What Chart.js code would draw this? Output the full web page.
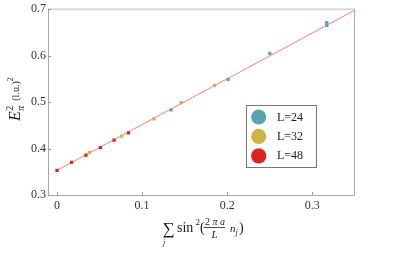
<!DOCTYPE html>
<html><head><meta charset="utf-8">
<script src="https://cdn.jsdelivr.net/npm/chart.js@4"></script>
<style>html,body{margin:0;padding:0;background:#fff}#wrap{width:407px;height:254px}</style>
</head><body><div id="wrap"><canvas id="c" width="407" height="254"></canvas></div>
<script>
const seriesLabels = ['L=24', 'L=32', 'L=48'];
const seriesColors = ['#5aa3b3', '#cfb443', '#dc2424'];
const x24 = [0.134, 0.201, 0.250, 0.317, 0.317];
const y24 = [0.483, 0.549, 0.605, 0.665, 0.671];
const x32 = [0.038, 0.076, 0.114, 0.146, 0.185];
const y32 = [0.391, 0.427, 0.464, 0.499, 0.536];
const x48 = [0.000, 0.017, 0.034, 0.051, 0.067, 0.084];
const y48 = [0.353, 0.370, 0.386, 0.402, 0.418, 0.434];
const fitX = [0.0, 0.35];
const fitY = [0.353, 0.698];
const xTicks = [0, 0.1, 0.2, 0.3];
const yTicks = [0.3, 0.4, 0.5, 0.6, 0.7];
const xRange = [-0.0106, 0.349];
const yRange = [0.3, 0.7];

const SERIF = '"Liberation Serif", "DejaVu Serif", serif';
const pts = (xs, ys) => xs.map((x, i) => ({x, y: ys[i]}));
const seriesX = [x24, x32, x48], seriesY = [y24, y32, y48];

const datasets = seriesLabels.map((lab, i) => ({
  type: 'scatter', label: lab, data: pts(seriesX[i], seriesY[i]),
  pointStyle: 'rect', pointRadius: 2.3, pointBorderWidth: 0,
  backgroundColor: seriesColors[i], borderColor: seriesColors[i], order: 1
}));
datasets.push({
  type: 'line', label: 'fit', data: pts(fitX, fitY), borderColor: '#ff7f7f',
  borderWidth: 1, pointRadius: 0, fill: false, order: 10
});

function txt(ctx, s, font, x, y) { ctx.font = font + ' ' + SERIF; ctx.fillText(s, x, y); return ctx.measureText(s).width; }

const framePlugin = {
  id: 'frame',
  beforeDatasetsDraw(chart) {
    const {ctx, chartArea: a, scales: {x, y}} = chart;
    ctx.save();
    ctx.lineWidth = 2; ctx.strokeStyle = '#dcdcdc';
    ctx.beginPath(); ctx.moveTo(a.left, a.top); ctx.lineTo(a.right + 1, a.top); ctx.stroke();
    ctx.lineWidth = 1; ctx.strokeStyle = '#a8a8a8';
    ctx.beginPath();
    ctx.moveTo(a.left + 0.5, a.top); ctx.lineTo(a.left + 0.5, a.bottom + 0.5);
    ctx.lineTo(a.right + 0.5, a.bottom + 0.5); ctx.lineTo(a.right + 0.5, a.top);
    ctx.stroke();
    ctx.strokeStyle = '#999';
    ctx.beginPath();
    yTicks.forEach(v => { const py = Math.round(y.getPixelForValue(v)) + 0.5; ctx.moveTo(a.left, py); ctx.lineTo(a.left + 3, py); });
    xTicks.forEach(v => { const px = Math.round(x.getPixelForValue(v)) + 0.5; ctx.moveTo(px, a.bottom); ctx.lineTo(px, a.bottom - 3); });
    ctx.stroke();
    ctx.restore();
  },
  afterDraw(chart) {
    const {ctx} = chart;
    ctx.save();
    // legend
    const bx = 246.5, by = 105.5, bw = 70, bh = 62;
    ctx.fillStyle = '#fff'; ctx.fillRect(bx, by, bw, bh);
    ctx.strokeStyle = '#777'; ctx.lineWidth = 1; ctx.strokeRect(bx, by, bw, bh);
    seriesLabels.forEach((lab, i) => {
      const cy = 117 + i * 19.4;
      ctx.fillStyle = seriesColors[i];
      ctx.beginPath(); ctx.arc(258.7, cy, 7.6, 0, Math.PI * 2); ctx.fill();
      ctx.fillStyle = '#222'; ctx.textBaseline = 'middle'; ctx.textAlign = 'left';
      txt(ctx, lab, '12px', 277, cy + 0.5);
    });
    // x title
    ctx.fillStyle = '#222'; ctx.textBaseline = 'alphabetic'; ctx.textAlign = 'left';
    txt(ctx, '\u2211', '17px', 162.5, 234);
    txt(ctx, 'j', 'italic 8px', 163, 245);
    txt(ctx, 'sin', '14px', 177, 232);
    txt(ctx, '2', '9px', 195.5, 225);
    txt(ctx, '(', '14px', 200, 232);
    // fraction
    let nx = 205;
    nx += txt(ctx, '2 ', '10px', nx, 224.5);
    nx += txt(ctx, '\u03c0', 'italic 10px', nx, 224.5);
    nx += txt(ctx, ' a', 'italic 10px', nx, 224.5);
    ctx.strokeStyle = '#222'; ctx.lineWidth = 0.8;
    ctx.beginPath(); ctx.moveTo(203.5, 227.5); ctx.lineTo(225, 227.5); ctx.stroke();
    txt(ctx, 'L', 'italic 11px', 211.5, 237.5);
    txt(ctx, 'n', 'italic 11px', 230, 232);
    txt(ctx, 'j', 'italic 8px', 235.5, 234.5);
    txt(ctx, ')', '14px', 239, 232);
    // y title (rotated)
    ctx.translate(20, 121); ctx.rotate(-Math.PI / 2);
    let tx = 0;
    tx += txt(ctx, 'E', 'italic 16px', tx, 0) + 0.5;
    txt(ctx, '2', '10px', tx, -7);
    tx += txt(ctx, '\u03c0', 'italic 10px', tx, 3.5) + 5;
    tx += txt(ctx, '(l.u.)', '10px', tx, -1);
    txt(ctx, '2', '8px', tx, -7);
    ctx.restore();
  }
};

new Chart(document.getElementById('c'), {
  data: {datasets},
  options: {
    responsive: false, animation: false, devicePixelRatio: 1,
    layout: {padding: {left: 0, top: 6, right: 53, bottom: 0}},
    plugins: {legend: {display: false}, tooltip: {enabled: false}},
    scales: {
      x: {
        type: 'linear', min: xRange[0], max: xRange[1],
        afterBuildTicks: s => { s.ticks = xTicks.map(v => ({value: v})); },
        afterFit: s => { s.height = 59; },
        grid: {display: false, drawTicks: false}, border: {display: false},
        ticks: {padding: 4, color: '#333', font: {family: SERIF, size: 12}, maxRotation: 0,
          callback: v => v === 0 ? '0' : v.toFixed(1)}
      },
      y: {
        type: 'linear', min: yRange[0], max: yRange[1],
        afterBuildTicks: s => { s.ticks = yTicks.map(v => ({value: v})); },
        afterFit: s => { s.width = 48; },
        grid: {display: false, drawTicks: false}, border: {display: false},
        ticks: {padding: 2, color: '#333', font: {family: SERIF, size: 12},
          callback: v => v.toFixed(1)}
      }
    }
  },
  plugins: [framePlugin]
});
</script></body></html>
